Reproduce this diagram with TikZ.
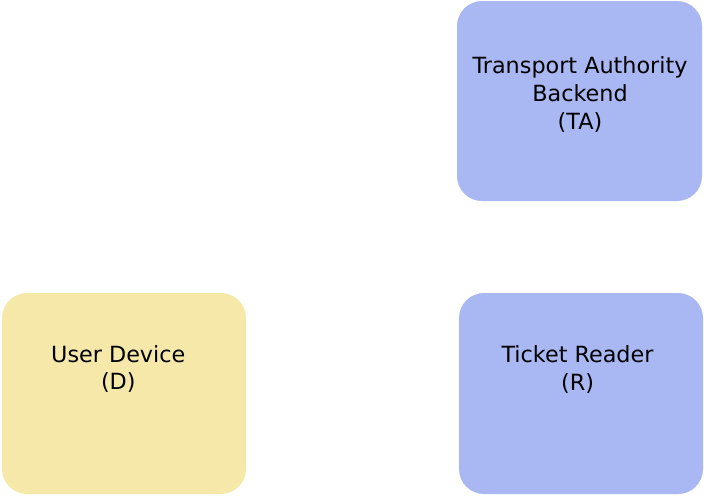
\documentclass[tikz,border=0pt]{standalone}
\usepackage{fontspec}
\setmainfont{DejaVu Sans}
\definecolor{boxblue}{RGB}{169,184,243}
\definecolor{boxyellow}{RGB}{245,232,169}
\begin{document}
\begin{tikzpicture}[x=0.5pt,y=-0.5pt,
  box/.style={rounded corners=12.5pt, draw=none},
  lbl/.style={align=center, inner sep=0pt, font=\fontsize{11.15pt}{13.9pt}\selectfont}]
\useasboundingbox (0,0) rectangle (704,495);
\fill[box, boxblue] (457,1) rectangle (702,201);
\node[coordinate] (ta) at (579.5,101) {};
\fill[box, boxyellow] (2,293) rectangle (246,494);
\node[coordinate] (d) at (124,393.5) {};
\fill[box, boxblue] (459,293) rectangle (703,494);
\node[coordinate] (r) at (581,393.5) {};
\node[lbl] (talbl) at (580,94.5) {Transport Authority\\Backend\\(TA)};
\node[lbl] (dlbl) at (118.3,369) {User Device\\(D)};
\node[lbl] (rlbl) at (577.5,369.8) {Ticket Reader\\(R)};
\end{tikzpicture}
\end{document}
